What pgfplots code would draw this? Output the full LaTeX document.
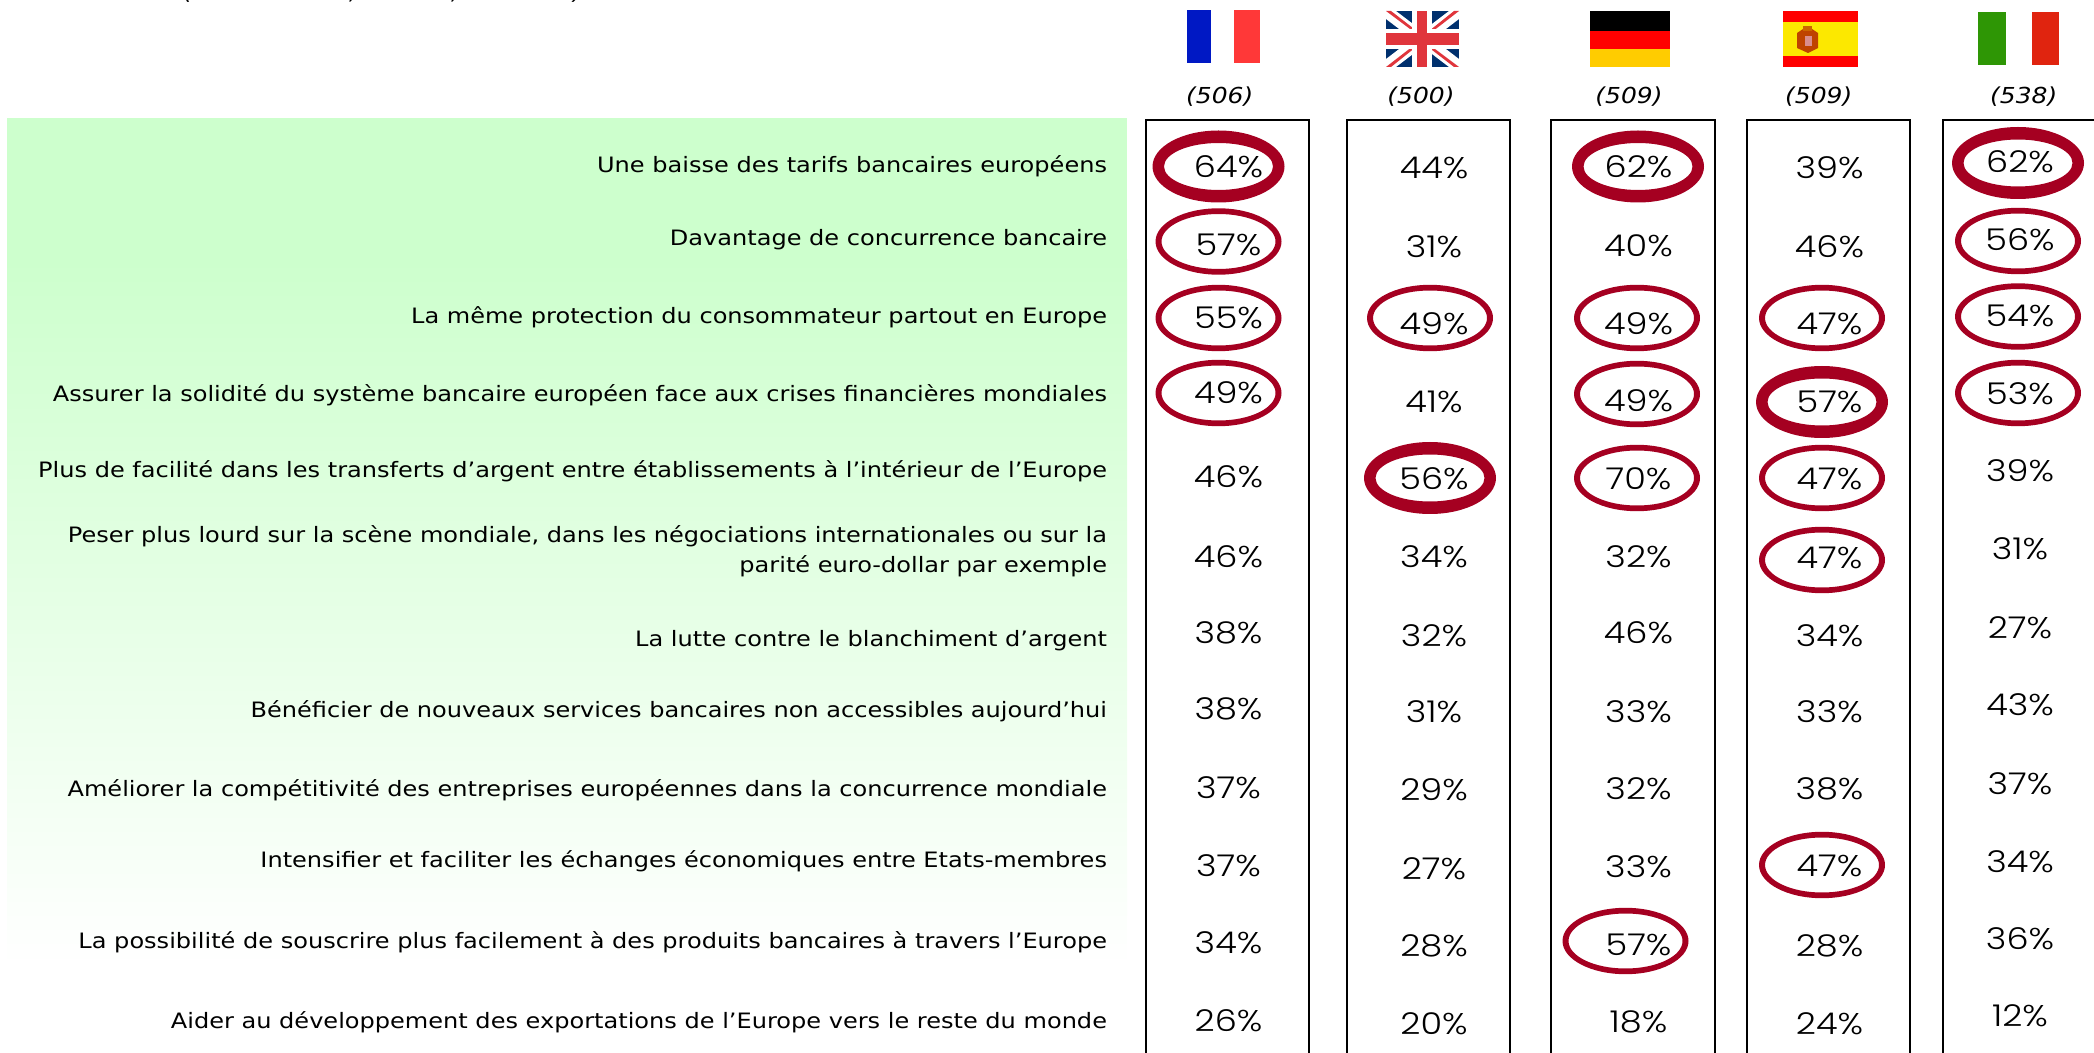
\documentclass[border=0pt]{standalone}
\usepackage{fontspec}
\setmainfont{DejaVu Sans}
\newfontfamily\valfont[FakeStretch=1.17,UprightFont={* Light}]{Poppins}
\newfontfamily\labelfont[FakeStretch=1.134]{DejaVu Sans}
\usepackage{pgfplots}
\usepackage{pgfplotstable}
\pgfplotsset{compat=1.18}
\definecolor{ringred}{HTML}{A50021}
\definecolor{panel}{HTML}{CDFFCD}
\definecolor{frblue}{HTML}{0018C4}
\definecolor{frred}{HTML}{FF3838}
\definecolor{ukblue}{HTML}{00306E}
\definecolor{ukred}{HTML}{E0353C}
\definecolor{degold}{HTML}{FFCC00}
\definecolor{esyellow}{HTML}{FCE800}
\definecolor{itgreen}{HTML}{2E9605}
\definecolor{itred}{HTML}{E0240F}
\pgfdeclareplotmark{thickring}{%
  \pgfpathellipse{\pgfpointorigin}{\pgfqpoint{33pt}{0pt}}{\pgfqpoint{0pt}{18pt}}%
  \pgfpathellipse{\pgfpointorigin}{\pgfqpoint{27.25pt}{0pt}}{\pgfqpoint{0pt}{11.75pt}}%
  \pgfseteorule\pgfusepathqfill}
\pgfdeclareplotmark{thinring}{%
  \pgfpathellipse{\pgfpointorigin}{\pgfqpoint{31.5pt}{0pt}}{\pgfqpoint{0pt}{16.6pt}}%
  \pgfpathellipse{\pgfpointorigin}{\pgfqpoint{28.5pt}{0pt}}{\pgfqpoint{0pt}{13.75pt}}%
  \pgfseteorule\pgfusepathqfill}

\pgfplotstableread[col sep=semicolon,row sep=crcr]{
x;y;label\\
1107;172.7;Une baisse des tarifs bancaires européens\\
1107;246;Davantage de concurrence bancaire\\
1107;324;La même protection du consommateur partout en Europe\\
1107;402;Assurer la solidité du système bancaire européen face aux crises financières mondiales\\
1107;478;Plus de facilité dans les transferts d’argent entre établissements à l’intérieur de l’Europe\\
1107;542;Peser plus lourd sur la scène mondiale, dans les négociations internationales ou sur la\\
1107;572;parité euro-dollar par exemple\\
1107;646;La lutte contre le blanchiment d’argent\\
1107;717;Bénéficier de nouveaux services bancaires non accessibles aujourd’hui\\
1107;796;Améliorer la compétitivité des entreprises européennes dans la concurrence mondiale\\
1107;867;Intensifier et faciliter les échanges économiques entre Etats-membres\\
1107;948;La possibilité de souscrire plus facilement à des produits bancaires à travers l’Europe\\
1107;1028;Aider au développement des exportations de l’Europe vers le reste du monde\\
}\tabLabels

\pgfplotstableread[row sep=crcr]{
x y val\\
1228.5 167 64\\ 1228.5 245 57\\ 1228.5 318 55\\ 1228.5 393 49\\ 1228.5 477 46\\ 1228.5 557 46\\
1228.5 633 38\\ 1228.5 709 38\\ 1228.5 788 37\\ 1228.5 866 37\\ 1228.5 943 34\\ 1228.5 1021 26\\
}\tabFR
\pgfplotstableread[row sep=crcr]{
x y val\\
1434 168 44\\ 1434 247 31\\ 1434 324 49\\ 1434 402 41\\ 1434 479 56\\ 1434 557 34\\
1434 636 32\\ 1434 712 31\\ 1434 790 29\\ 1434 869 27\\ 1434 946 28\\ 1434 1024 20\\
}\tabUK
\pgfplotstableread[row sep=crcr]{
x y val\\
1638.5 167 62\\ 1638.5 246 40\\ 1638.5 324 49\\ 1638.5 401 49\\ 1638.5 479 70\\ 1638.5 557 32\\
1638.5 633 46\\ 1638.5 712 33\\ 1638.5 789 32\\ 1638.5 867 33\\ 1638.5 945 57\\ 1638.5 1022 18\\
}\tabDE
\pgfplotstableread[row sep=crcr]{
x y val\\
1829.5 168 39\\ 1829.5 247 46\\ 1829.5 324 47\\ 1829.5 402 57\\ 1829.5 479 47\\ 1829.5 558 47\\
1829.5 636 34\\ 1829.5 712 33\\ 1829.5 789 38\\ 1829.5 866 47\\ 1829.5 946 28\\ 1829.5 1024 24\\
}\tabES
\pgfplotstableread[row sep=crcr]{
x y val\\
2020 162 62\\ 2020 240 56\\ 2020 316 54\\ 2020 394 53\\ 2020 471 39\\ 2020 549 31\\
2020 628 27\\ 2020 705 43\\ 2020 784 37\\ 2020 862 34\\ 2020 939 36\\ 2020 1016 12\\
}\tabIT

\pgfplotstableread[row sep=crcr]{
x y\\
1218.5 166.5\\ 1638 166.5\\ 2018 163\\ 1430 478\\ 1822 402\\
}\thickrings
\pgfplotstableread[row sep=crcr]{
x y\\
1218.5 241.5\\ 1218.5 318\\ 1218.5 393\\
1430 318\\
1637 318\\ 1637 394\\ 1637 478\\ 1625.5 941\\
1822 318\\ 1822 478\\ 1822 560\\ 1822 865\\
2018 241\\ 2018 316.5\\ 2018 393\\
}\thinrings

\pgfplotstableread[row sep=crcr]{
x y label\\
1219.7 96.7 (506)\\
1421 96.7 (500)\\
1629 96.7 (509)\\
1818.7 96.7 (509)\\
2023.7 96.7 (538)\\
}\tabBases

\pgfplotstableread[row sep=crcr]{
x y label\\
188 0 (\\
353 0 ,\\
455 0 ,\\
578 0 )\\
}\tabTop

\newcommand{\flagpart}[2]{\addplot[fill=#1,draw=none] coordinates {#2} -- cycle;}
\newcommand{\colframe}[2]{\addplot[black,line width=1pt] coordinates {(#1,1060) (#1,120.5) (#2,120.5) (#2,1060)};}
\newcommand{\valplot}[1]{\addplot[only marks,mark=none,point meta=explicit,
  nodes near coords={\valfont\fontsize{15pt}{16pt}\selectfont\pgfmathprintnumber{\pgfplotspointmeta}\%},
  every node near coord/.append style={anchor=center}]
  table[x=x,y=y,meta=val] {#1};}

\begin{document}
\begin{tikzpicture}
\begin{axis}[
  at={(0pt,0pt)},anchor=south west,
  scale only axis,width=1047pt,height=526.5pt,
  xmin=0,xmax=2094,ymin=0,ymax=1053,y dir=reverse,
  axis lines=none,ticks=none,clip=true,
  /pgf/number format/assume math mode=true,
  every node near coord/.append style={inner sep=0pt,outer sep=0pt,text=black},
]
% panel
\addplot[fill=panel,draw=none] coordinates {(7,118) (1127,118) (1127,262) (7,262)} -- cycle;
\addplot[draw=none,top color=panel,bottom color=white] coordinates {(7,260) (1127,260) (1127,965) (7,965)} -- cycle;

% boxes
\colframe{1146}{1309}
\colframe{1347}{1510}
\colframe{1551}{1715}
\colframe{1747}{1910}
\colframe{1943}{2110}

% rings
\addplot[only marks,mark=thickring,mark options={fill=ringred,draw=none}] table[x=x,y=y] {\thickrings};
\addplot[only marks,mark=thinring,mark options={fill=ringred,draw=none}] table[x=x,y=y] {\thinrings};

% flags
\flagpart{white}{(1187,10) (1260,10) (1260,63) (1187,63)}
\flagpart{frblue}{(1187,10) (1211,10) (1211,63) (1187,63)}
\flagpart{frred}{(1234,10) (1260,10) (1260,63) (1234,63)}

\flagpart{ukblue}{(1386,11) (1459,11) (1459,67) (1386,67)}
\flagpart{white}{(1386,11) (1396,11) (1459,59) (1459,67) (1449,67) (1386,19)}
\flagpart{white}{(1459,11) (1449,11) (1386,59) (1386,67) (1396,67) (1459,19)}
\flagpart{ukred}{(1386,11) (1391,11) (1422,35) (1418,35)}
\flagpart{ukred}{(1459,67) (1454,67) (1423,43) (1427,43)}
\flagpart{ukred}{(1459,11) (1454,11) (1424,35) (1428,35)}
\flagpart{ukred}{(1386,67) (1391,67) (1421,43) (1417,43)}
\flagpart{white}{(1412,11) (1432,11) (1432,67) (1412,67)}
\flagpart{white}{(1386,29) (1459,29) (1459,49) (1386,49)}
\flagpart{ukred}{(1417,11) (1427,11) (1427,67) (1417,67)}
\flagpart{ukred}{(1386,33) (1459,33) (1459,45) (1386,45)}

\flagpart{black}{(1590,11) (1670,11) (1670,31) (1590,31)}
\flagpart{red}{(1590,31) (1670,31) (1670,49) (1590,49)}
\flagpart{degold}{(1590,49) (1670,49) (1670,67) (1590,67)}

\flagpart{red}{(1783,11) (1858,11) (1858,67) (1783,67)}
\flagpart{esyellow}{(1783,22) (1858,22) (1858,56) (1783,56)}
\flagpart{red!65!yellow!75!black}{(1797,33) (1803,29) (1812,29) (1818,33) (1818,48) (1808,53) (1797,48)}
\flagpart{orange!80!black}{(1803,26) (1812,26) (1812,31) (1803,31)}
\flagpart{red!35!white!85!black}{(1805,36) (1812,36) (1812,46) (1805,46)}

\flagpart{white}{(1978,12) (2059,12) (2059,65) (1978,65)}
\flagpart{itgreen}{(1978,12) (2005.5,12) (2005.5,65) (1978,65)}
\flagpart{itred}{(2032,12) (2059,12) (2059,65) (2032,65)}

% cut-off line at the very top
\addplot[only marks,mark=none,point meta=explicit symbolic,
  nodes near coords={\labelfont\itshape\fontsize{11pt}{12pt}\selectfont\pgfplotspointmeta},
  every node near coord/.append style={anchor=base}]
  table[x=x,y=y,meta=label] {\tabTop};

% row labels
\addplot[only marks,mark=none,point meta=explicit symbolic,
  nodes near coords={\labelfont\fontsize{10.6pt}{12pt}\selectfont\pgfplotspointmeta},
  every node near coord/.append style={anchor=base east}]
  table[x=x,y=y,meta=label] {\tabLabels};

% sample sizes
\addplot[only marks,mark=none,point meta=explicit symbolic,
  nodes near coords={\labelfont\itshape\fontsize{11pt}{12pt}\selectfont\pgfplotspointmeta},
  every node near coord/.append style={anchor=center}]
  table[x=x,y=y,meta=label] {\tabBases};

% values
\valplot{\tabFR}
\valplot{\tabUK}
\valplot{\tabDE}
\valplot{\tabES}
\valplot{\tabIT}
\end{axis}
\pgfresetboundingbox
\path[use as bounding box] (0pt,0pt) rectangle (1047pt,526.5pt);
\end{tikzpicture}
\end{document}
